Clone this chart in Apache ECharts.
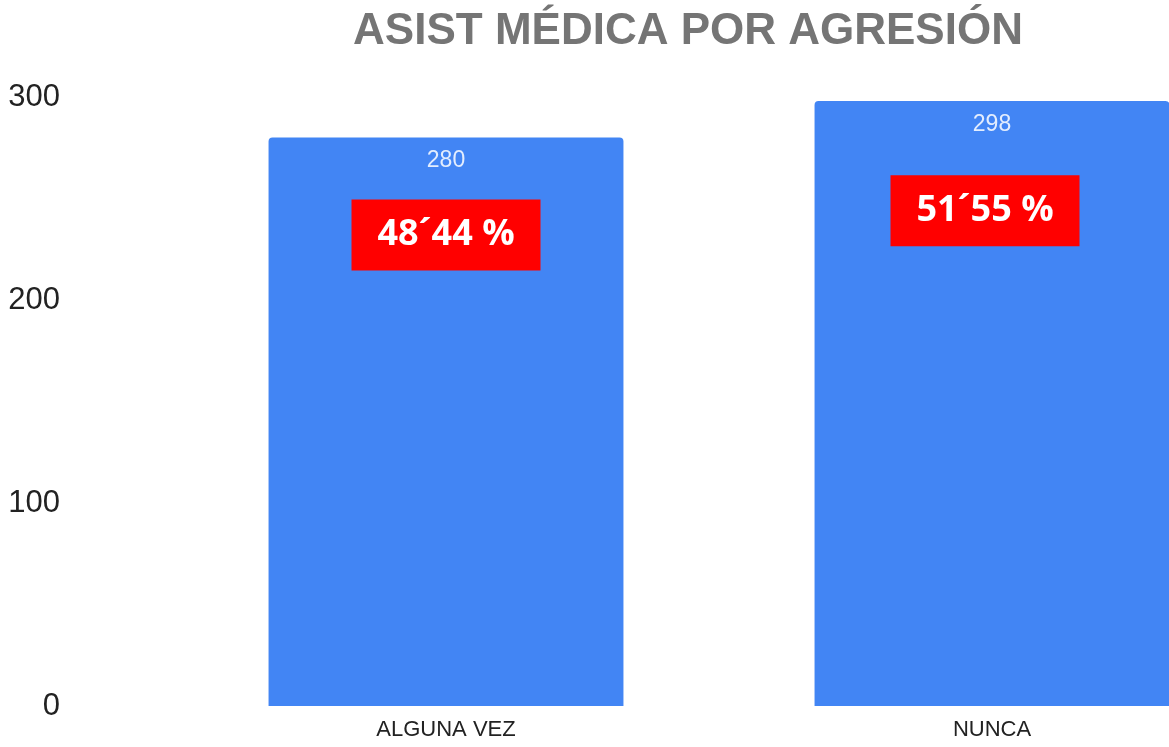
<!DOCTYPE html>
<html>
<head>
<meta charset="utf-8">
<script src="https://cdn.jsdelivr.net/npm/echarts@6/dist/echarts.min.js"></script>
<style>
  html, body { margin: 0; padding: 0; background: #fff; }
  #chart { width: 1169px; height: 747px; }
</style>
</head>
<body>
<div id="chart"></div>
<script>
// datos
var categorias = ['ALGUNA VEZ', 'NUNCA'];
var valores = [280, 298];
var porcentajes = ['48´44 %', '51´55 %'];
var ticksY = [0, 100, 200, 300];

var chart = echarts.init(document.getElementById('chart'));

// cajas rojas con el porcentaje (posicion en unidades del eje)
var cajaY = [232, 244];
var cajaDx = [0, -7];

var option = {
    animation: false,
    title: {
        text: 'ASIST MÉDICA POR AGRESIÓN',
        left: 683,
        textAlign: 'center',
        top: 5,
        textStyle: {
            fontFamily: 'Liberation Sans',
            fontSize: 44,
            fontWeight: 'bold',
            color: '#757575'
        }
    },
    // el grafico original esta recortado a la derecha
    grid: {
        left: 173,
        width: 1092,
        top: 97,
        bottom: 41,
        outerBoundsMode: 'none'
    },
    xAxis: {
        type: 'category',
        data: categorias,
        axisLine: { show: false },
        axisTick: { show: false },
        axisLabel: {
            margin: 13,
            fontFamily: 'Liberation Sans',
            fontSize: 22,
            color: '#222'
        }
    },
    yAxis: {
        type: 'value',
        min: ticksY[0],
        max: ticksY[ticksY.length - 1],
        interval: 100,
        splitLine: { show: false },
        axisLine: { show: false },
        axisTick: { show: false },
        axisLabel: {
            margin: 113,
            fontFamily: 'Liberation Sans',
            fontSize: 31,
            color: '#222'
        }
    },
    series: [{
        type: 'bar',
        data: valores,
        barWidth: '65%',
        itemStyle: {
            color: '#4285F4',
            borderRadius: [4, 4, 0, 0]
        },
        label: {
            show: true,
            position: 'insideTop',
            distance: 12,
            fontFamily: 'Liberation Sans',
            fontSize: 23,
            color: 'rgba(255,255,255,0.85)'
        },
        markPoint: {
            symbol: 'rect',
            symbolSize: [189, 71],
            itemStyle: { color: '#FF0000' },
            label: {
                show: true,
                position: 'inside',
                color: '#fff',
                fontFamily: 'Open Sans',
                fontWeight: 'bold',
                fontSize: 36,
                formatter: function (p) { return p.name; }
            },
            data: categorias.map(function (c, i) {
                return {
                    name: porcentajes[i],
                    coord: [c, cajaY[i]],
                    symbolOffset: [cajaDx[i], 0]
                };
            })
        }
    }]
};

chart.setOption(option);
window.addEventListener('resize', function () {
    chart.resize();
});
</script>
</body>
</html>
